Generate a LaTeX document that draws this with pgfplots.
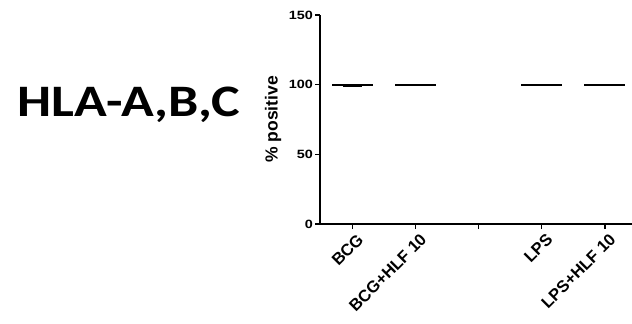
\documentclass[border=0pt]{standalone}
\usepackage{pgfplots}
\pgfplotsset{compat=1.18}
\usepackage{fontspec}
\setmainfont{Liberation Sans}
\newfontfamily\titlefont{Carlito}
\begin{document}
\begin{tikzpicture}[x=1pt,y=1pt]
\useasboundingbox (0,0) rectangle (632,324);
\node[anchor=base west, inner sep=0pt, font=\titlefont\bfseries\fontsize{45}{50}\selectfont, xscale=1.2] at (17,207) {HLA-A,B,C};
\begin{axis}[
  at={(320pt,100pt)}, anchor=south west,
  scale only axis, width=312pt, height=209pt,
  xmin=0.48, xmax=5.43, ymin=0, ymax=150,
  axis x line*=bottom, axis y line*=left,
  axis line style={line width=1.4pt, -},
  xtick={1,2,3,4,5},
  xticklabels={BCG,BCG+HLF 10,,LPS,LPS+HLF 10},
  x tick label style={rotate=45, anchor=north east, font=\bfseries\fontsize{16.5}{17}\selectfont, inner sep=1pt, yshift=-4pt, xshift=1pt},
  ytick={0,50,100,150},
  yticklabel={\scalebox{1.2}[1]{\pgfmathprintnumber{\tick}}},
  y tick label style={font=\bfseries\fontsize{12}{13}\selectfont, inner sep=1pt, xshift=-1pt},
  /pgf/number format/assume math mode=true,
  tick style={black, line width=1.2pt},
  tick align=outside, major tick length=5pt,
  ylabel={\% positive},
  ylabel style={font=\bfseries\fontsize{17.5}{18}\selectfont, at={(ticklabel cs:0.5)}, anchor=south, yshift=3pt},
  clip=false,
]
\addplot[black, line width=2pt] coordinates {(0.675,99.5) (1.325,99.5)};
\addplot[black, line width=1.6pt] coordinates {(0.85,98.7) (1.15,98.7)};
\addplot[black, line width=2pt] coordinates {(1.675,99.7) (2.325,99.7)};
\addplot[black, line width=2pt] coordinates {(3.675,100) (4.325,100)};
\addplot[black, line width=2pt] coordinates {(4.675,100) (5.325,100)};
\end{axis}
\end{tikzpicture}
\end{document}
